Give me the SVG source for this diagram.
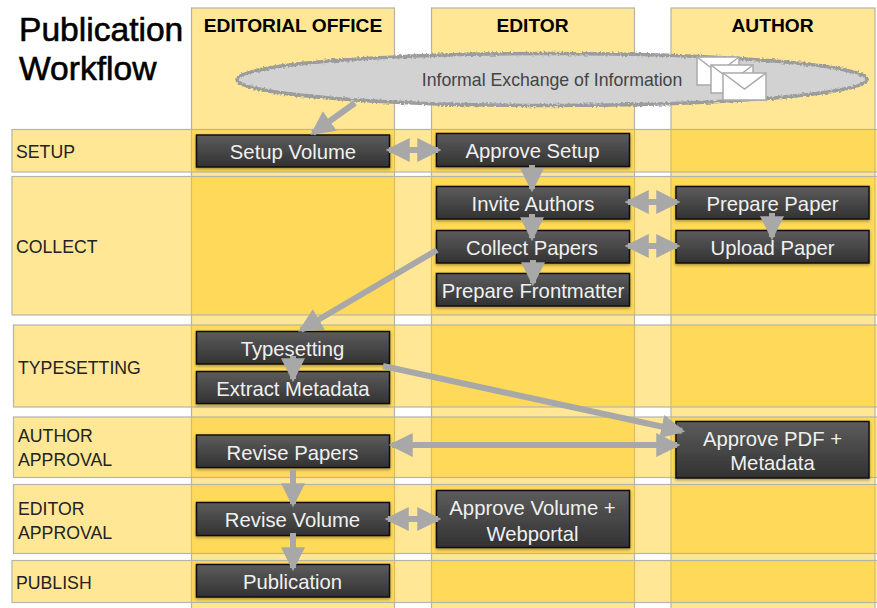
<svg xmlns="http://www.w3.org/2000/svg" width="877" height="608" viewBox="0 0 877 608">
<style>
.band{fill:#ffc80e;fill-opacity:.44;stroke:#b4b4aa;stroke-width:1.2}
.node rect{fill:url(#ng);stroke:#111;stroke-width:1.5;filter:url(#sh)}
.node text{font:20.300px "Liberation Sans",Arial,sans-serif;fill:#f0f0f0;text-anchor:middle}
.lab{font:17.700px "Liberation Sans",Arial,sans-serif;fill:#222}
.hd{font:bold 19.200px "Liberation Sans",Arial,sans-serif;fill:#000;text-anchor:middle}
.title{font:33.600px "Liberation Sans",Arial,sans-serif;fill:#000;stroke:#000;stroke-width:.6}
#connectors path{fill:none;stroke:#a8a8a8;stroke-width:6}
.one{marker-end:url(#ah)}
.two{marker-end:url(#ah);marker-start:url(#ah)}
.env rect{fill:#fff;stroke:#aaa;stroke-width:1.5}
.env path{fill:none;stroke:#aaa;stroke-width:1.5}
</style>
<defs>
<linearGradient id="ng" x1="0" y1="0" x2="0" y2="1"><stop offset="0" stop-color="#5c5c5c"/><stop offset="1" stop-color="#323232"/></linearGradient>
<filter id="sh" x="-5%" y="-20%" width="110%" height="150%"><feDropShadow dx="0" dy="1.500" stdDeviation="1.500" flood-color="#000" flood-opacity=".35"/></filter>
<filter id="rough" x="-2%" y="-20%" width="104%" height="140%"><feTurbulence type="fractalNoise" baseFrequency=".5" numOctaves="2" seed="3"/><feDisplacementMap in="SourceGraphic" scale="4" xChannelSelector="R" yChannelSelector="G"/></filter>
<marker id="ah" markerUnits="userSpaceOnUse" markerWidth="24" markerHeight="24" refX="19" refY="11" orient="auto-start-reverse" viewBox="0 0 22 22"><path d="M0 0L22 11L0 22Z" style="fill:#a8a8a8;stroke:none"/></marker>
</defs>

<g id="bands">
<rect class="band" x="191.500" y="8" width="203" height="610"/>
<rect class="band" x="431.500" y="8" width="203" height="610"/>
<rect class="band" x="671" y="8" width="204" height="610"/>
<rect class="band" x="12" y="129.500" width="875" height="42.500"/>
<rect class="band" x="12" y="176.500" width="875" height="138.500"/>
<rect class="band" x="13.500" y="325" width="875" height="82"/>
<rect class="band" x="13.500" y="417" width="875" height="60.500"/>
<rect class="band" x="13.500" y="484.500" width="875" height="69"/>
<rect class="band" x="12" y="560.500" width="875" height="42"/>
</g>

<g id="labels">
<text class="title" x="19" y="41">Publication</text>
<text class="title" x="19" y="80">Workflow</text>
<text class="hd" x="293" y="32">EDITORIAL OFFICE</text>
<text class="hd" x="532.500" y="32">EDITOR</text>
<text class="hd" x="772.500" y="32">AUTHOR</text>
<text class="lab" x="16" y="158">SETUP</text>
<text class="lab" x="16" y="253">COLLECT</text>
<text class="lab" x="18" y="374">TYPESETTING</text>
<text class="lab" x="18" y="442">AUTHOR</text>
<text class="lab" x="18" y="466">APPROVAL</text>
<text class="lab" x="18" y="515">EDITOR</text>
<text class="lab" x="18" y="539">APPROVAL</text>
<text class="lab" x="16" y="589">PUBLISH</text>
</g>

<g id="informal">
<ellipse cx="552" cy="79.500" rx="315" ry="26" fill="#d2d2d2" stroke="#9c9c9c" stroke-width="3.500" filter="url(#rough)"/>
<text x="552" y="86" style="font:17.700px 'Liberation Sans',Arial,sans-serif;fill:#444;text-anchor:middle">Informal Exchange of Information</text>
<g class="env"><rect x="697" y="57" width="42" height="28"/><path d="M697 57L718 73L739 57"/></g>
<g class="env"><rect x="711" y="65" width="42" height="28"/><path d="M711 65L732 81L753 65"/></g>
<g class="env"><rect x="723" y="73" width="43" height="27"/><path d="M723 73L744.500 89L766 73"/></g>
</g>

<g id="n-setup" class="node"><rect x="196.500" y="135" width="193" height="32"/><text x="293" y="158.500">Setup Volume</text></g>
<g id="n-approve-setup" class="node"><rect x="436.500" y="133.500" width="193" height="33"/><text x="532.500" y="157.500">Approve Setup</text></g>
<g id="n-invite" class="node"><rect x="436.500" y="186.500" width="193" height="32.500"/><text x="533" y="210.500">Invite Authors</text></g>
<g id="n-collect" class="node"><rect x="436.500" y="230.500" width="193" height="32.500"/><text x="532" y="254.500">Collect Papers</text></g>
<g id="n-front" class="node"><rect x="436.500" y="273.500" width="193" height="32.500"/><text x="533" y="297.500">Prepare Frontmatter</text></g>
<g id="n-prepare" class="node"><rect x="676" y="186.500" width="193" height="32.500"/><text x="772.500" y="210.500">Prepare Paper</text></g>
<g id="n-upload" class="node"><rect x="676" y="230.500" width="193" height="32.500"/><text x="772.500" y="254.500">Upload Paper</text></g>
<g id="n-typeset" class="node"><rect x="196.500" y="331.500" width="193" height="32.500"/><text x="292.500" y="355.500">Typesetting</text></g>
<g id="n-extract" class="node"><rect x="196.500" y="371.500" width="193" height="32"/><text x="293" y="395.500">Extract Metadata</text></g>
<g id="n-revise-papers" class="node"><rect x="196.500" y="435" width="193" height="32.500"/><text x="292.500" y="459.500">Revise Papers</text></g>
<g id="n-revise-volume" class="node"><rect x="196.500" y="502.500" width="193" height="33"/><text x="292.500" y="526.500">Revise Volume</text></g>
<g id="n-publication" class="node"><rect x="196.500" y="564.500" width="193" height="32.500"/><text x="292.500" y="588.500">Publication</text></g>
<g id="n-approve-volume" class="node"><rect x="436.500" y="490.500" width="193" height="57"/><text x="532.500" y="515">Approve Volume +</text><text x="532.500" y="541">Webportal</text></g>
<g id="n-approve-pdf" class="node"><rect x="676" y="421.500" width="193" height="56.500"/><text x="772.500" y="446">Approve PDF +</text><text x="772.500" y="470">Metadata</text></g>

<g id="connectors">
<path class="one" d="M355 103L313 133"/>
<path class="two" d="M389 150L438 150"/>
<path class="one" d="M532 165L532 189"/>
<path class="two" d="M628 202L677 202"/>
<path class="one" d="M532 214L532 238"/>
<path class="two" d="M628 246L677 246"/>
<path class="one" d="M772 213L772 237"/>
<path class="one" d="M533 260L533 283"/>
<path class="one" d="M437 250L301 330"/>
<path class="one" d="M293 356L293 379"/>
<path class="one" d="M383 366L682 431"/>
<path class="two" d="M392 445L677 445"/>
<path class="one" d="M293 470L293 504"/>
<path class="two" d="M388 519L438 519"/>
<path class="one" d="M293 533L293 568"/>
</g>
</svg>
